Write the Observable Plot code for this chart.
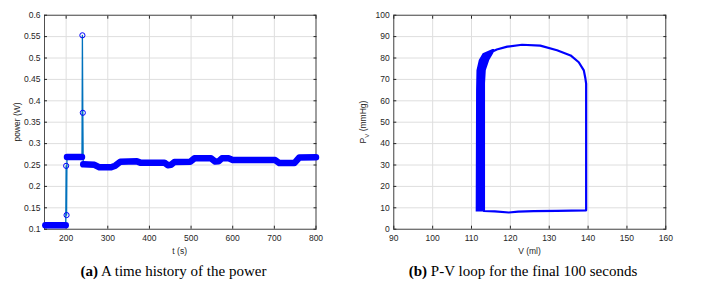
<!DOCTYPE html>
<html>
<head>
<meta charset="utf-8">
<script src="https://cdn.jsdelivr.net/npm/d3@7"></script>
<script src="https://cdn.jsdelivr.net/npm/@observablehq/plot@0.6"></script>
<style>
  html, body { margin: 0; padding: 0; background: #fff; }
  #wrap { position: relative; width: 711px; height: 286px; overflow: hidden; background: #fff; }
  #wrap svg { position: absolute; top: 0; }
  .lab { position: absolute; font-family: "Liberation Sans", Arial, sans-serif; font-size: 8.5px; color: #262626; white-space: nowrap; transform: translate(-50%, -50%); }
  .rot { transform: translate(-50%, -50%) rotate(-90deg); }
  .cap { position: absolute; font-family: "Liberation Serif", "Times New Roman", serif; font-size: 15px; color: #000; white-space: nowrap; transform: translate(-50%, -50%); }
</style>
</head>
<body>
<div id="wrap"></div>
<script>
// ---------- Panel (a): power time history ----------
// dense (marker band) segments
const bandT   = [150, 199, 202, 238, 241, 268, 280, 308, 318, 330, 370, 378, 436, 444, 452, 460, 498, 508, 548, 558, 566, 574, 590, 600, 702, 712, 748, 760, 800];
const bandP   = [0.109, 0.109, 0.2685, 0.2685, 0.2515, 0.2505, 0.2445, 0.2445, 0.2485, 0.2575, 0.2585, 0.2555, 0.2555, 0.2495, 0.2505, 0.257, 0.2575, 0.2655, 0.2655, 0.258, 0.2585, 0.2655, 0.2655, 0.2615, 0.2615, 0.2545, 0.2545, 0.2675, 0.268];
const bandSeg = [0, 0, 1, 1, 2, 2, 2, 2, 2, 2, 2, 2, 2, 2, 2, 2, 2, 2, 2, 2, 2, 2, 2, 2, 2, 2, 2, 2, 2];
// isolated markers
const spikeT = [200, 201, 239, 240];
const spikeP = [0.248, 0.133, 0.553, 0.372];
const powerXTicks = [200, 300, 400, 500, 600, 700, 800];
const powerYTicks = [0.1, 0.15, 0.2, 0.25, 0.3, 0.35, 0.4, 0.45, 0.5, 0.55, 0.6];

// ---------- Panel (b): P-V loop ----------
const loopV = [113.2, 116, 119.6, 122, 126, 132, 139.5, 139.5, 139.5, 139.3, 138.9, 137.6, 135.5, 132, 127.7, 123, 119.2, 116.5, 114.6, 113.6, 113.2, 113.2];
const loopP = [8.5, 8.3, 7.8, 8.2, 8.4, 8.6, 8.8, 40, 68, 70.5, 74.2, 78, 81.2, 83.6, 85.8, 86.2, 85.3, 84.0, 82.3, 79, 74, 9];
// overlapping cycles on the left wall (band edges)
const wallP  = [8.0, 65, 74, 78.8, 82, 84];
const wallV1 = [111.2, 111.3, 111.4, 112.0, 113.0, 115.5];
const wallV2 = [113.4, 113.5, 113.8, 114.7, 115.7, 116.0];
const pvXTicks = [90, 100, 110, 120, 130, 140, 150, 160];
const pvYTicks = [0, 10, 20, 30, 40, 50, 60, 70, 80, 90, 100];

const band = bandT.map((t, i) => ({t, p: bandP[i], seg: bandSeg[i]}));
const spikes = spikeT.map((t, i) => ({t, p: spikeP[i]}));
const allPts = [...band, ...spikes].sort((a, b) => a.t - b.t);
const loop = loopV.map((v, i) => ({v, p: loopP[i]}));
const wall = wallP.map((p, i) => ({p, v1: wallV1[i], v2: wallV2[i]}));

const FONT = "Liberation Sans, Arial, sans-serif";
const TXT = "#262626";
const GRID = "#dedede";

function axes(xt, yt, fmtY) {
  return [
    Plot.gridX(xt, {stroke: GRID, strokeOpacity: 1, strokeWidth: 1}),
    Plot.gridY(yt, {stroke: GRID, strokeOpacity: 1, strokeWidth: 1}),
    Plot.axisX(xt, {anchor: "bottom", tickSize: -3, tickPadding: 9, label: null, fill: TXT, stroke: TXT}),
    Plot.axisX(xt, {anchor: "top", tickSize: -3, tickFormat: () => "", label: null, stroke: TXT}),
    Plot.axisY(yt, {anchor: "left", tickSize: -3, tickPadding: 7, tickFormat: fmtY, label: null, fill: TXT, stroke: TXT}),
    Plot.axisY(yt, {anchor: "right", tickSize: -3, tickFormat: () => "", label: null, stroke: TXT}),
    Plot.frame({stroke: TXT, strokeWidth: 0.8})
  ];
}

const plotA = Plot.plot({
  width: 355, height: 258,
  marginLeft: 44, marginRight: 39.5, marginTop: 14.7, marginBottom: 29.3,
  style: {fontFamily: FONT, fontSize: "8.5px", background: "transparent", overflow: "visible"},
  x: {domain: [148, 800]},
  y: {domain: [0.1, 0.6]},
  marks: [
    ...axes(powerXTicks, powerYTicks, d => String(d)),
    Plot.line(allPts, {x: "t", y: "p", stroke: "#0072BD", strokeWidth: 1.3}),
    Plot.line(band, {x: "t", y: "p", z: "seg", stroke: "#0000ff", strokeWidth: 6.5, strokeLinecap: "round", strokeLinejoin: "round"}),
    Plot.dot(spikes, {x: "t", y: "p", r: 2.6, stroke: "#0000ff", strokeWidth: 1, fill: "none"})
  ]
});

const plotB = Plot.plot({
  width: 356, height: 258,
  marginLeft: 38.3, marginRight: 45.7, marginTop: 14.7, marginBottom: 29.3,
  style: {fontFamily: FONT, fontSize: "8.5px", background: "transparent", overflow: "visible"},
  x: {domain: [90, 160]},
  y: {domain: [0, 100]},
  marks: [
    ...axes(pvXTicks, pvYTicks, d => String(d)),
    Plot.areaX(wall, {y: "p", x1: "v1", x2: "v2", fill: "#0000ff", curve: "linear"}),
    Plot.line(loop, {x: "v", y: "p", stroke: "#0000ff", strokeWidth: 2.2, strokeLinejoin: "round", strokeLinecap: "round", curve: "linear"})
  ]
});

const wrap = document.getElementById("wrap");
plotA.style.left = "0px";
plotB.style.left = "355px";
wrap.appendChild(plotA);
wrap.appendChild(plotB);

function addLabel(html, x, y, cls) {
  const d = document.createElement("div");
  d.className = cls;
  d.style.left = x + "px";
  d.style.top = y + "px";
  d.innerHTML = html;
  wrap.appendChild(d);
}
addLabel("t (s)", 179.7, 250.7, "lab");
addLabel("V (ml)", 529.5, 250.7, "lab");
addLabel("power (W)", 16.7, 122, "lab rot");
addLabel("P<sub style=\"font-size:6px\">V</sub> (mmHg)", 364, 122, "lab rot");
addLabel("<b>(a)</b> A time history of the power", 173.5, 270.5, "cap");
addLabel("<b>(b)</b> P-V loop for the final 100 seconds", 523, 270.5, "cap");
</script>
</body>
</html>
